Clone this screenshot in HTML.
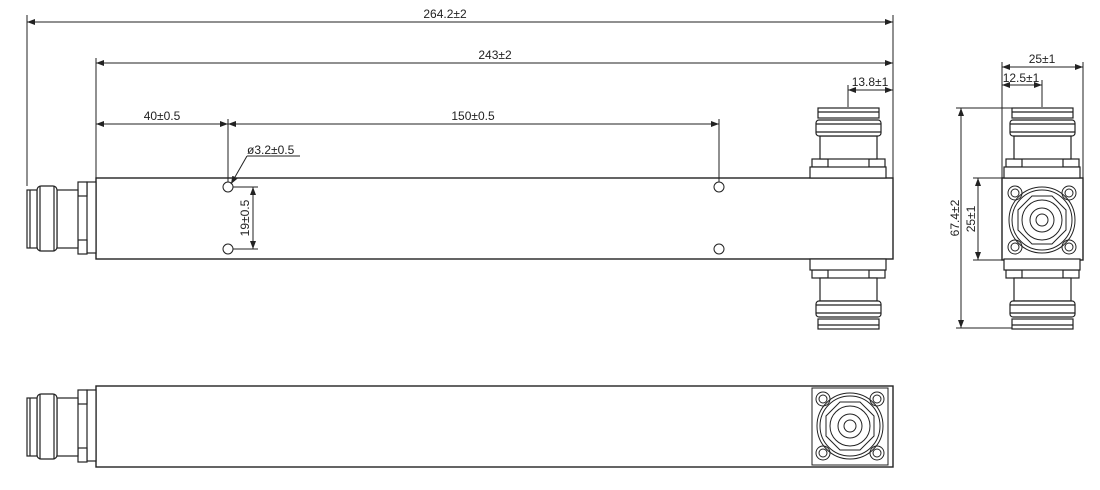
<!DOCTYPE html>
<html><head><meta charset="utf-8"><style>
html,body{margin:0;padding:0;background:#fff}
svg{display:block}
text{font-family:"Liberation Sans",sans-serif;font-size:12px;fill:#222}
</style></head><body>
<svg width="1100" height="490" viewBox="0 0 1100 490" xmlns="http://www.w3.org/2000/svg">
<defs>
<marker id="a" markerWidth="8" markerHeight="6" refX="8" refY="3" orient="auto-start-reverse" markerUnits="userSpaceOnUse"><path d="M0,0 L8,3 L0,6z" fill="#222"/></marker>
<g id="lconn" fill="#fff" stroke="#222" stroke-width="1.2">
<rect x="87" y="182" width="9" height="71"/>
<rect x="78" y="182" width="9" height="14"/>
<rect x="78" y="240" width="9" height="14"/>
<rect x="57" y="190" width="21" height="58"/>
<rect x="37" y="186" width="20" height="65" rx="4"/>
<line x1="40" y1="186" x2="40" y2="251"/><line x1="54" y1="186" x2="54" y2="251"/>
<rect x="27" y="190" width="10" height="58"/>
<line x1="30" y1="190" x2="30" y2="248"/>
</g>
<g id="vconn" fill="#fff" stroke="#222" stroke-width="1.2">
<rect x="812" y="159" width="16" height="8"/>
<rect x="869" y="159" width="16" height="8"/>
<rect x="810" y="167" width="76" height="11"/>
<rect x="820" y="136" width="57" height="23"/>
<rect x="816" y="120" width="65" height="16" rx="3"/>
<line x1="816" y1="124" x2="881" y2="124"/><line x1="816" y1="132" x2="881" y2="132"/>
<rect x="818" y="108" width="61" height="10"/>
<line x1="818" y1="112" x2="879" y2="112"/>
</g>
<g id="face" fill="none" stroke="#222" stroke-width="1">
<circle r="33"/><circle r="30"/>
<polygon points="-10,-24 10,-24 24,-10 24,10 10,24 -10,24 -24,10 -24,-10"/>
<circle r="20"/><circle r="12"/><circle r="6"/>
<circle cx="-27" cy="-27" r="7"/><circle cx="-27" cy="-27" r="4"/>
<circle cx="27" cy="-27" r="7"/><circle cx="27" cy="-27" r="4"/>
<circle cx="-27" cy="27" r="7"/><circle cx="-27" cy="27" r="4"/>
<circle cx="27" cy="27" r="7"/><circle cx="27" cy="27" r="4"/>
</g>
</defs>
<g stroke="#222" stroke-width="1" fill="none">
<!-- top view -->
<rect x="96" y="178" width="797" height="81" stroke-width="1.4"/>
<use href="#lconn"/>
<use href="#vconn"/>
<use href="#vconn" transform="translate(0,437) scale(1,-1)"/>
<circle cx="228" cy="187" r="5"/><circle cx="228" cy="249" r="5"/>
<circle cx="719" cy="187" r="5"/><circle cx="719" cy="249" r="5"/>
<!-- dims -->
<line x1="27" y1="15" x2="27" y2="186"/>
<line x1="893" y1="15" x2="893" y2="178"/>
<line x1="96" y1="58" x2="96" y2="178"/>
<line x1="27" y1="22" x2="893" y2="22" marker-start="url(#a)" marker-end="url(#a)"/>
<line x1="96" y1="63" x2="893" y2="63" marker-start="url(#a)" marker-end="url(#a)"/>
<line x1="96" y1="124" x2="228" y2="124" marker-start="url(#a)" marker-end="url(#a)"/>
<line x1="228" y1="124" x2="719" y2="124" marker-start="url(#a)" marker-end="url(#a)"/>
<line x1="228" y1="119" x2="228" y2="182"/>
<line x1="719" y1="119" x2="719" y2="182"/>
<line x1="247" y1="156" x2="300" y2="156"/>
<line x1="247" y1="156" x2="231" y2="184" marker-end="url(#a)"/>
<line x1="233" y1="187" x2="258" y2="187"/><line x1="233" y1="249" x2="258" y2="249"/>
<line x1="253" y1="187" x2="253" y2="249" marker-start="url(#a)" marker-end="url(#a)"/>
<line x1="848" y1="90" x2="893" y2="90" marker-start="url(#a)" marker-end="url(#a)"/>
<line x1="848" y1="85" x2="848" y2="107"/>
<!-- side view -->
<rect x="1002" y="178" width="81" height="82" stroke-width="1.4"/>
<use href="#vconn" transform="translate(194,0)"/>
<use href="#vconn" transform="translate(194,437) scale(1,-1)"/>
<use href="#face" transform="translate(1042,220)"/>
<line x1="1002" y1="62" x2="1002" y2="178"/>
<line x1="1083" y1="62" x2="1083" y2="178"/>
<line x1="1042" y1="80" x2="1042" y2="107"/>
<line x1="1002" y1="67" x2="1083" y2="67" marker-start="url(#a)" marker-end="url(#a)"/>
<line x1="1002" y1="85" x2="1042" y2="85" marker-start="url(#a)" marker-end="url(#a)"/>
<line x1="956" y1="108" x2="1012" y2="108"/>
<line x1="956" y1="328" x2="1012" y2="328"/>
<line x1="961" y1="108" x2="961" y2="328" marker-start="url(#a)" marker-end="url(#a)"/>
<line x1="973" y1="178" x2="1002" y2="178"/>
<line x1="973" y1="260" x2="1002" y2="260"/>
<line x1="978" y1="178" x2="978" y2="260" marker-start="url(#a)" marker-end="url(#a)"/>
<!-- bottom view -->
<rect x="96" y="386" width="797" height="81" stroke-width="1.4"/>
<use href="#lconn" transform="translate(0,208)"/>
<rect x="812" y="388" width="76" height="77"/>
<use href="#face" transform="translate(850,426)"/>
</g>
<text x="445" y="18" text-anchor="middle">264.2±2</text>
<text x="495" y="59" text-anchor="middle">243±2</text>
<text x="162" y="120" text-anchor="middle">40±0.5</text>
<text x="473" y="120" text-anchor="middle">150±0.5</text>
<text x="247" y="154">ø3.2±0.5</text>
<text x="870" y="86" text-anchor="middle">13.8±1</text>
<text x="1042" y="63" text-anchor="middle">25±1</text>
<text x="1021" y="82" text-anchor="middle">12.5±1</text>
<text transform="translate(249,218) rotate(-90)" text-anchor="middle">19±0.5</text>
<text transform="translate(959,218) rotate(-90)" text-anchor="middle">67.4±2</text>
<text transform="translate(975,219) rotate(-90)" text-anchor="middle">25±1</text>
</svg>
</body></html>
